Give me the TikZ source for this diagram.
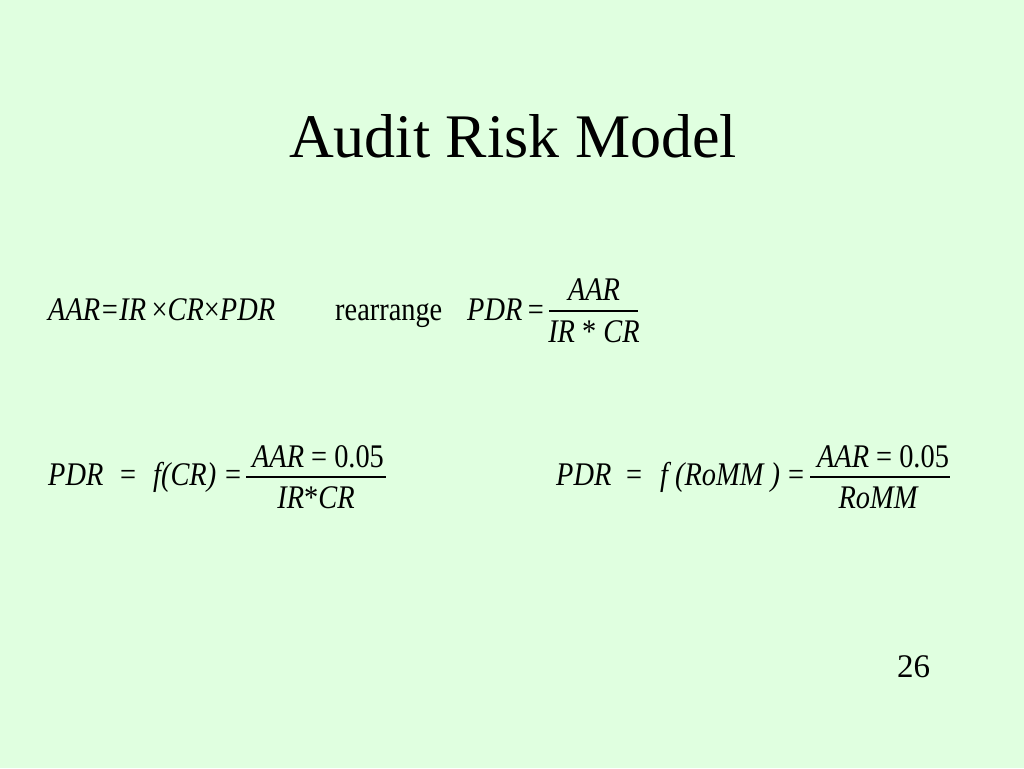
\documentclass[tikz,border=0pt]{standalone}
\usepackage{fontspec}
\setmainfont{Liberation Serif}
\newfontfamily\eqfont[FakeStretch=0.86]{Liberation Serif}
\usepackage{tikz}
\definecolor{slidegreen}{HTML}{E0FFE0}

\begin{document}
\begin{tikzpicture}[x=1pt,y=-1pt,
    eq/.style={inner sep=0pt,anchor=base west,font=\eqfont\itshape\fontsize{33}{36}\selectfont},
    eqc/.style={eq,anchor=base},
    bar/.style={line width=1.3pt}]
\tikzset{up/.style={font=\eqfont\upshape\fontsize{33}{36}\selectfont}}
\fill[slidegreen] (0,0) rectangle (1024,768);
\useasboundingbox (0,0) rectangle (1024,768);
\node[inner sep=0pt,anchor=base,font=\fontsize{62}{70}\selectfont] (title) at (513,157) {Audit Risk Model};
% first line
\node[eq] (model) at (48,320) {AAR=IR\,\upshape×\itshape CR\upshape×\itshape PDR};
\node[eq,up] (rearr) at (335,320) {rearrange};
\node[eq] (pdrA) at (467,320) {PDR\,\upshape=};
\coordinate (barAl) at (549,311);
\coordinate (barAr) at (638,311);
\draw[bar] (barAl) -- (barAr);
\node[eqc] (numA) at (594,300) {AAR};
\node[eqc] (denA) at (594,342) {IR \upshape* \itshape CR};
% second line, left
\node[eq] (pdrB) at (48,485) {PDR};
\node[eq,up] (eqB) at (120,485) {=};
\node[eq] (fB) at (153,485) {f(CR)};
\node[eq,up] (eqB2) at (225,485) {=};
\coordinate (barBl) at (246,477);
\coordinate (barBr) at (386,477);
\draw[bar] (barBl) -- (barBr);
\node[eqc] (numB) at (318,467) {AAR \upshape= 0.05};
\node[eqc] (denB) at (316,508) {IR\upshape*\itshape CR};
% second line, right
\node[eq] (pdrC) at (556,485) {PDR};
\node[eq,up] (eqC) at (626,485) {=};
\node[eq] (fC) at (660,485) {f (RoMM )};
\node[eq,up] (eqC2) at (788,485) {=};
\coordinate (barCl) at (810,477);
\coordinate (barCr) at (950,477);
\draw[bar] (barCl) -- (barCr);
\node[eqc] (numC) at (883,467) {AAR \upshape= 0.05};
\node[eqc] (denC) at (878,508) {RoMM};
\node[inner sep=0pt,anchor=base west,font=\fontsize{33}{36}\selectfont] (page) at (897,677) {26};
\end{tikzpicture}
\end{document}
